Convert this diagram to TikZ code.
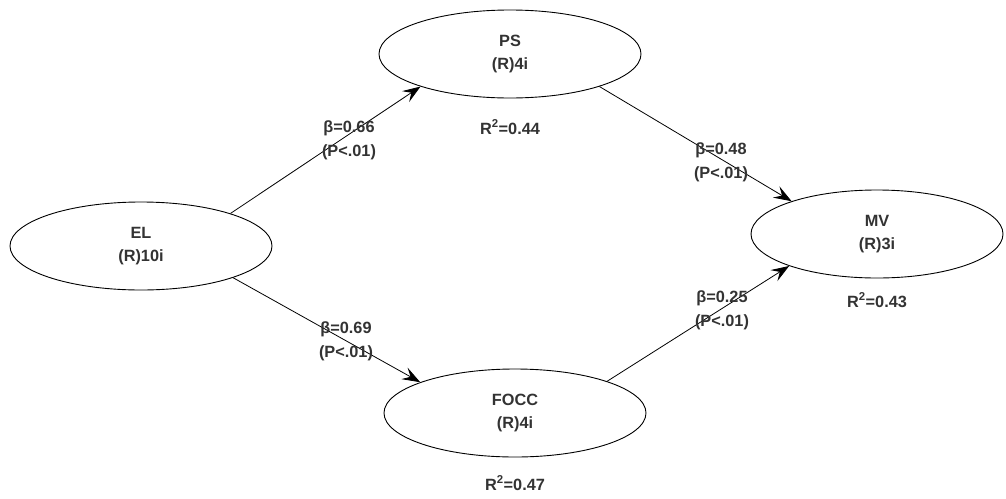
\documentclass[tikz,border=0pt]{standalone}
\usepackage{fontspec}
\setmainfont{Liberation Sans}
\usetikzlibrary{shapes.geometric,arrows.meta}
\definecolor{txt}{HTML}{333333}
\tikzset{
  construct/.style={draw=black, line width=0.9pt, ellipse, inner sep=0pt,
    minimum width=262pt, minimum height=88pt, align=center, text=txt,
    font=\bfseries\fontsize{16.3}{23}\selectfont},
  path/.style={draw=black, line width=0.8pt,
    -{Stealth[length=18pt,width=13pt,inset=7pt]}},
  coef/.style={text=txt, align=center, inner sep=0pt,
    font=\bfseries\fontsize{16.3}{24}\selectfont},
  rsq/.style={text=txt, inner sep=0pt, font=\bfseries\fontsize{16.3}{18}\selectfont}
}
\begin{document}
\begin{tikzpicture}[x=1pt,y=-1pt]
  \useasboundingbox[fill=white] (0,0) rectangle (1006,498);

  % latent variables
  \node[construct] (el)   at (141,246) {EL\\(R)10i};
  \node[construct] (ps)   at (510,54)  {PS\\(R)4i};
  \node[construct] (focc) at (515,413) {FOCC\\(R)4i};
  \node[construct, minimum width=252pt] (mv) at (877,234) {MV\\(R)3i};

  % structural paths
  \draw[path] (el.20)   -- (ps.200);
  \draw[path] (el.-19)  -- (focc.162);
  \draw[path] (ps.-20)  -- (mv.159);
  \draw[path] (focc.19) -- (mv.200);

  % path coefficients
  \node[coef] (c1) at (349,140) {β=0.66\\(P<.01)};
  \node[coef] (c2) at (721,162) {β=0.48\\(P<.01)};
  \node[coef] (c3) at (346,341) {β=0.69\\(P<.01)};
  \node[coef] (c4) at (722,310) {β=0.25\\(P<.01)};

  % explained variance
  \node[rsq] (r1) at (510,127) {R\textsuperscript{2}=0.44};
  \node[rsq] (r2) at (515,483) {R\textsuperscript{2}=0.47};
  \node[rsq] (r3) at (877,300) {R\textsuperscript{2}=0.43};
\end{tikzpicture}
\end{document}
